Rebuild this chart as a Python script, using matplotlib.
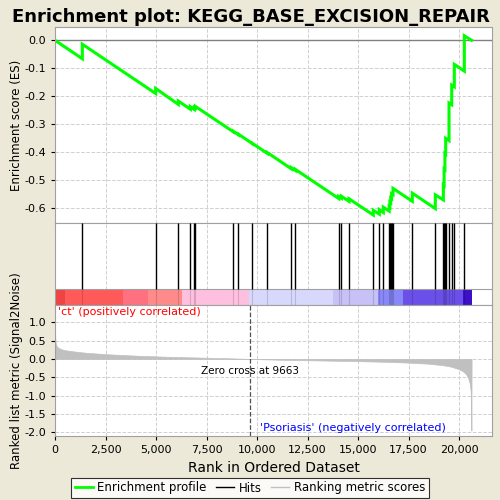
import matplotlib
matplotlib.use("Agg")
import matplotlib.pyplot as plt
from matplotlib.ticker import FuncFormatter, MultipleLocator
from matplotlib.lines import Line2D

# ---------------- data ----------------
n_genes = 20620
zero_cross = 9663

hit_ranks = [1353, 4983, 6105, 6699, 6897, 6947, 8828, 9075, 9768, 10511,
             11699, 11897, 14042, 14174, 14553, 15756, 16053, 16251, 16540,
             16575, 16617, 16660, 16731, 17686, 18825, 19223, 19260, 19300,
             19338, 19503, 19636, 19765, 20260]
es_before = [-0.066, -0.190, -0.229, -0.246, -0.247, -0.242, -0.327, -0.337,
             -0.369, -0.404, -0.459, -0.465, -0.565, -0.564, -0.575, -0.624,
             -0.621, -0.615, -0.610, -0.596, -0.580, -0.565, -0.551, -0.575,
             -0.601, -0.570, -0.519, -0.462, -0.406, -0.358, -0.230, -0.166,
             -0.110]
es_after = [-0.014, -0.172, -0.217, -0.237, -0.240, -0.236, -0.325, -0.335,
            -0.368, -0.401, -0.455, -0.461, -0.558, -0.557, -0.566, -0.607,
            -0.605, -0.596, -0.594, -0.578, -0.563, -0.548, -0.529, -0.546,
            -0.552, -0.517, -0.460, -0.404, -0.350, -0.224, -0.160, -0.086,
            0.016]

metric_ranks = [0, 10, 30, 60, 120, 250, 400, 600, 1000, 1500, 2500, 4000,
                5500, 7000, 8500, 9663, 11000, 13000, 15000, 16500, 17500,
                18500, 19200, 19600, 20000, 20200, 20350, 20450, 20520,
                20570, 20600, 20610, 20620]
metric_vals = [1.0, 0.6, 0.45, 0.38, 0.32, 0.28, 0.25, 0.23, 0.20, 0.17,
               0.13, 0.09, 0.06, 0.04, 0.02, 0.0, -0.02, -0.04, -0.06, -0.08,
               -0.10, -0.13, -0.17, -0.21, -0.28, -0.34, -0.42, -0.52, -0.65,
               -0.85, -1.2, -1.95, 0.0]

bar_edges = [0, 495, 3381, 4618, 6272, 9618, 13776, 16003, 17211, 20181, 20627]
bar_colors = ["#f04444", "#ff5a5a", "#ff7080", "#ff8a8a", "#ffc0e0",
              "#d8d8fc", "#c6c2f8", "#8888f8", "#6a50e8", "#3c10c8"]

x_ticks = [0, 2500, 5000, 7500, 10000, 12500, 15000, 17500, 20000]

# ---------------- figure ----------------
bg = "#ece9d8"
fig = plt.figure(figsize=(5, 5), dpi=100, facecolor=bg)
xlim = (0, 21630)
grid_kw = dict(color="#d0d0d0", linestyle="--", linewidth=0.7)

ax1 = fig.add_axes([0.11, 0.554, 0.874, 0.392])
ax2 = fig.add_axes([0.11, 0.39, 0.874, 0.164])
ax3 = fig.add_axes([0.11, 0.128, 0.874, 0.262])

for ax in (ax1, ax2, ax3):
    ax.set_facecolor("white")
    ax.set_xlim(*xlim)
    for s in ax.spines.values():
        s.set_color("#a0a0a0")
    ax.set_xticks(x_ticks)
    ax.grid(True, **grid_kw)
    ax.set_axisbelow(True)

# ES curve
xs = [0]
ys = [0.0]
for r, b, a in zip(hit_ranks, es_before, es_after):
    xs += [r, r]
    ys += [b, a]
xs.append(n_genes)
ys.append(0.0)
ax1.axhline(0, color="#808080", linewidth=1)
ax1.plot(xs, ys, color="#00ff00", linewidth=2.2, solid_joinstyle="miter")
ax1.set_ylim(-0.6525, 0.0475)
ax1.yaxis.set_major_locator(MultipleLocator(0.1))
ax1.yaxis.set_major_formatter(FuncFormatter(lambda v, p: f"{v:.1f}"))
ax1.tick_params(axis="x", labelbottom=False, length=0)
ax1.tick_params(axis="y", labelsize=8, length=3)
ax1.set_ylabel("Enrichment score (ES)", fontsize=8.5)
ax1.yaxis.set_label_coords(-0.073, 0.5)
fig.text(0.502, 0.966, "Enrichment plot: KEGG_BASE_EXCISION_REPAIR",
         fontsize=13, fontweight="bold", ha="center", va="center")

# hits + colour bar
ax2.set_ylim(0, 1)
ax2.set_yticks([])
ax2.tick_params(axis="x", labelbottom=False, length=0)
bar_top = 16 / 82
for i, c in enumerate(bar_colors):
    ax2.axvspan(bar_edges[i], bar_edges[i + 1], ymin=0, ymax=bar_top,
                color=c, linewidth=0, zorder=2)
ax2.axhline(bar_top, color="#a0a0a0", linewidth=0.8, zorder=3)
ax2.vlines(hit_ranks, bar_top, 1, color="black", linewidth=1, zorder=4)
ax2.vlines(hit_ranks, 0, bar_top, color="black", linewidth=0.8, alpha=0.15,
           zorder=3)

# ranked metric
ax3.fill_between(metric_ranks, metric_vals, 0, color="#c0c0c0", linewidth=0.5,
                 edgecolor="#c0c0c0")
ax3.set_ylim(-2.1, 1.47)
ax3.yaxis.set_major_locator(MultipleLocator(0.5))
ax3.yaxis.set_major_formatter(FuncFormatter(lambda v, p: f"{v:.1f}"))
ax3.xaxis.set_major_formatter(FuncFormatter(lambda v, p: f"{int(v):,}"))
ax3.tick_params(labelsize=8, length=3)
ax3.axvline(zero_cross, color="#505050", linestyle="--", linewidth=0.9)
ax3.text(zero_cross, -0.33, f"Zero cross at {zero_cross}", fontsize=7.5,
         ha="center", va="center")
ax3.text(150, 1.29, "'ct' (positively correlated)", color="red",
         fontsize=8, ha="left", va="center")
ax3.text(14760, -1.87, "'Psoriasis' (negatively correlated)", color="blue",
         fontsize=8, ha="center", va="center")
ax3.set_xlabel("Rank in Ordered Dataset", fontsize=10)
ax3.set_ylabel("Ranked list metric (Signal2Noise)", fontsize=8.5)
ax3.yaxis.set_label_coords(-0.073, 0.5)

# legend
handles = [Line2D([], [], color="#00ff00", linewidth=2),
           Line2D([], [], color="black", linewidth=1),
           Line2D([], [], color="#c0c0c0", linewidth=1)]
leg = fig.legend(handles, ["Enrichment profile", "Hits", "Ranking metric scores"],
                 loc="center", bbox_to_anchor=(0.5, 0.024), ncol=3,
                 fontsize=8.5, frameon=True, fancybox=False,
                 handlelength=1.5, handletextpad=0.4, columnspacing=0.8,
                 borderpad=0.3)
leg.get_frame().set_edgecolor("black")
leg.get_frame().set_linewidth(0.8)

fig.savefig("out.png", dpi=100, facecolor=bg)
